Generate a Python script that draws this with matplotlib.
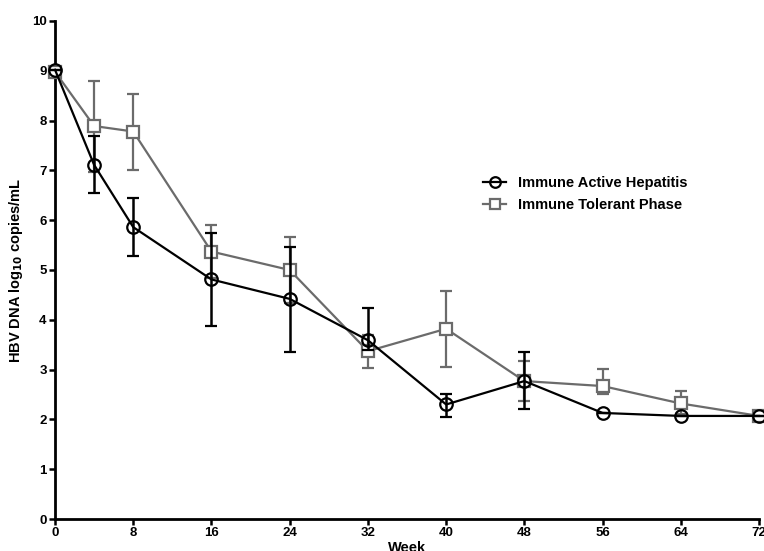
import matplotlib
matplotlib.use("Agg")
import matplotlib.pyplot as plt
import numpy as np

weeks = [0, 4, 8, 16, 24, 32, 40, 48, 56, 64, 72]

active_mean = [9.02, 7.11, 5.86, 4.81, 4.42, 3.59, 2.30, 2.77, 2.13, 2.07, 2.07]
active_upper = [9.02, 7.68, 6.45, 5.75, 5.47, 4.23, 2.52, 3.36, 2.13, 2.07, 2.07]
active_lower = [9.02, 6.55, 5.29, 3.88, 3.36, 3.40, 2.05, 2.20, 2.13, 2.07, 2.07]

tolerant_mean = [8.98, 7.89, 7.78, 5.37, 5.00, 3.37, 3.82, 2.77, 2.67, 2.32, 2.07]
tolerant_upper = [8.98, 8.80, 8.53, 5.90, 5.67, 3.70, 4.58, 3.17, 3.01, 2.57, 2.07]
tolerant_lower = [8.98, 6.97, 7.01, 4.84, 4.33, 3.04, 3.05, 2.37, 2.51, 2.10, 2.07]

xticks = [0, 8, 16, 24, 32, 40, 48, 56, 64, 72]
yticks = list(range(0, 11))

plt.rcParams['font.family'] = ['Liberation Sans', 'DejaVu Sans']
plt.rcParams['font.weight'] = 'bold'

fig = plt.figure(figsize=(7.64, 5.51), dpi=100)
ax = fig.add_axes([0.072, 0.058, 0.9215, 0.904])

gray = '#6b6b6b'

def err(mean, up, lo):
    m = np.array(mean); return [m - np.array(lo), np.array(up) - m]

eb_t = ax.errorbar(weeks, tolerant_mean, yerr=err(tolerant_mean, tolerant_upper, tolerant_lower),
            color=gray, lw=1.6, marker='s', ms=8, mfc='white', mec=gray, mew=1.6,
            capsize=4.5, capthick=1.6, elinewidth=1.6, label='Immune Tolerant Phase',
            clip_on=False, zorder=3)
eb_a = ax.errorbar(weeks, active_mean, yerr=err(active_mean, active_upper, active_lower),
            color='black', lw=1.6, marker='o', ms=9, mfc='none', mec='black', mew=1.6,
            capsize=4.5, capthick=1.8, elinewidth=1.8, label='Immune Active Hepatitis',
            clip_on=False, zorder=4)

ax.set_xlim(0, 72)
ax.set_ylim(0, 10)
ax.set_xticks(xticks)
ax.set_yticks(yticks)
ax.spines['top'].set_visible(False)
ax.spines['right'].set_visible(False)
for s in ('left', 'bottom'):
    ax.spines[s].set_linewidth(2.0)
ax.tick_params(axis='both', direction='out', width=1.8, length=4, labelsize=9.5, pad=2)
for lab in ax.get_xticklabels() + ax.get_yticklabels():
    lab.set_fontweight('bold')

ax.set_xlabel('Week', fontsize=10.5, fontweight='bold', labelpad=1)
ax.set_ylabel(r'HBV DNA log$_{\mathbf{10}}$ copies/mL', fontsize=10.5, fontweight='bold', labelpad=5)

leg = fig.legend([eb_a[0], eb_t[0]], ['Immune Active Hepatitis', 'Immune Tolerant Phase'],
                 loc='upper left', bbox_to_anchor=(0.615, 0.705),
                 frameon=False, handlelength=1.6, handletextpad=0.8, markerscale=0.85,
                 labelspacing=0.55, prop={'weight': 'bold', 'size': 10.5})

fig.savefig('out.png', dpi=100)
